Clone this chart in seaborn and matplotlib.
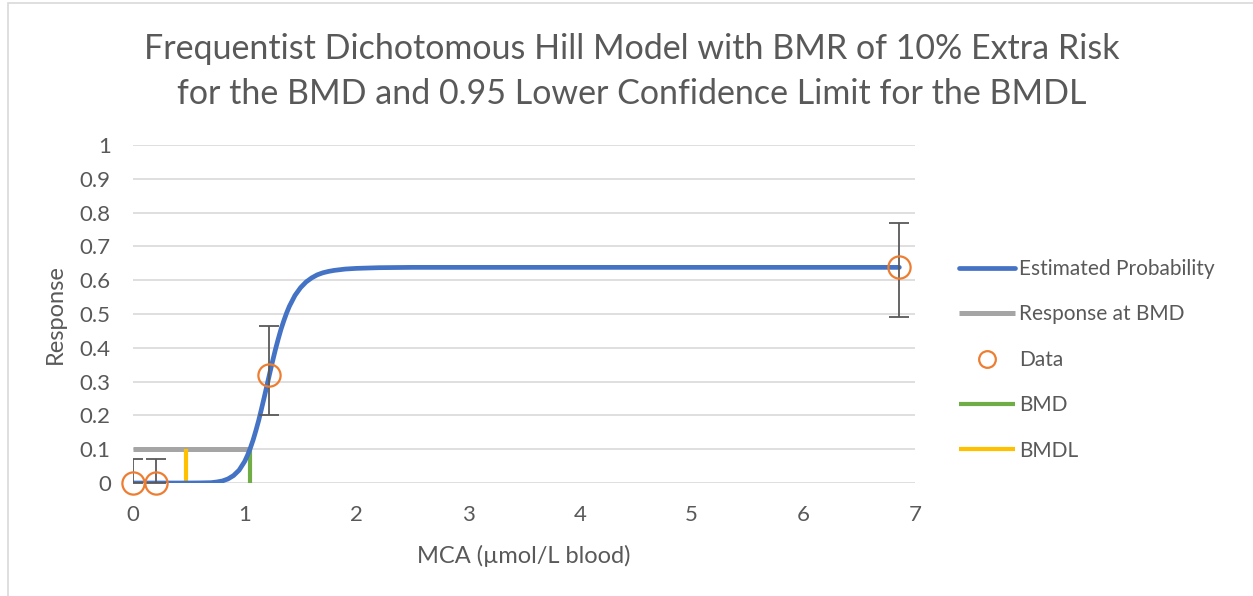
import numpy as np
import pandas as pd
import seaborn as sns
from matplotlib import pyplot as plt
from matplotlib.patches import Rectangle

sns.set_style('white')
plt.rcParams['font.family'] = ['Lato', 'DejaVu Sans']

# dose-response data
dose = [0, 0.21, 1.22, 6.86]
resp = [0, 0, 0.32, 0.64]
err_lo = [0, 0, 0.12, 0.15]
err_hi = [0.07, 0.07, 0.145, 0.13]

# fitted hill curve
curve_x = [0, 0.5, 0.6, 0.7, 0.75, 0.8, 0.85, 0.9, 0.95, 1.0, 1.025, 1.05, 1.075, 1.1, 1.125,
           1.15, 1.175, 1.2, 1.225, 1.25, 1.275, 1.3, 1.325, 1.35, 1.375, 1.4, 1.45, 1.5,
           1.55, 1.6, 1.65, 1.7, 1.75, 1.8, 1.9, 2.0, 2.2, 2.5, 3, 4, 5, 6, 6.86]
curve_y = [0, 0, 0.0003, 0.001, 0.003, 0.006, 0.012, 0.022, 0.038, 0.064, 0.082, 0.103,
           0.127, 0.155, 0.185, 0.219, 0.254, 0.29, 0.326, 0.361, 0.395, 0.426, 0.455, 0.48,
           0.503, 0.523, 0.555, 0.578, 0.595, 0.607, 0.616, 0.622, 0.626, 0.629, 0.633,
           0.635, 0.637, 0.638, 0.638, 0.638, 0.638, 0.638, 0.638]

bmd = 1.05
bmdl = 0.47
bmr = 0.1

blue = '#4472C4'
grey = '#A5A5A5'
orange = '#ED7D31'
green = '#70AD47'
yellow = '#FFC000'
txt = '#595959'

fig = plt.figure(figsize=(12.53, 5.96), dpi=100)
fig.patches.append(Rectangle((8 / 1253, -0.1), 1.2, 1 - 3 / 596 + 0.1, transform=fig.transFigure,
                             fill=False, edgecolor='#D9D9D9', lw=1.2))
ax = fig.add_axes([133 / 1253, 1 - 483 / 596, 782 / 1253, 338 / 596])

df = pd.DataFrame({'x': curve_x, 'y': curve_y})
sns.lineplot(data=df, x='x', y='y', ax=ax, color=blue, lw=3.4, label='Estimated Probability',
             zorder=3, solid_joinstyle='round', solid_capstyle='round')
ax.plot([0, bmd], [bmr, bmr], color=grey, lw=3.6, label='Response at BMD', zorder=2,
        solid_capstyle='butt')
ax.errorbar(dose, resp, yerr=[err_lo, err_hi], fmt='none', ecolor='#595959', elinewidth=1.3,
            capsize=7, capthick=1.3, zorder=4)
ax.plot(dose, resp, 'o', ms=16, mfc='none', mec=orange, mew=1.6, label='Data', clip_on=False,
        zorder=5)
ax.plot([bmd, bmd], [0, bmr], color=green, lw=3, label='BMD', zorder=2, solid_capstyle='butt')
ax.plot([bmdl, bmdl], [0, bmr], color=yellow, lw=3, label='BMDL', zorder=2,
        solid_capstyle='butt')

ax.set_xlim(0, 7)
ax.set_ylim(0, 1)
ax.set_yticks(np.arange(0, 1.01, 0.1))
ax.set_yticklabels(['0', '0.1', '0.2', '0.3', '0.4', '0.5', '0.6', '0.7', '0.8', '0.9', '1'])
ax.set_xticks(range(8))
ax.yaxis.grid(True, color='#D9D9D9', lw=1.2)
ax.xaxis.grid(False)
for s in ax.spines.values():
    s.set_visible(False)
ax.tick_params(axis='x', length=0, labelsize=16, colors=txt, pad=16)
ax.tick_params(axis='y', length=0, labelsize=16, colors=txt, pad=16)
ax.set_xlabel('MCA (µmol/L blood)', fontsize=17, color=txt, labelpad=14)
ax.set_ylabel('Response', fontsize=17, color=txt, labelpad=10)

fig.text(0.504, 0.88, 'Frequentist Dichotomous Hill Model with BMR of 10% Extra Risk\n'
         'for the BMD and 0.95 Lower Confidence Limit for the BMDL',
         ha='center', va='center', fontsize=24.5, color=txt, linespacing=1.5)

leg = ax.legend(loc='upper left', bbox_to_anchor=(959 / 1253, 1 - 259 / 596),
                bbox_transform=fig.transFigure, frameon=False, fontsize=15,
                handlelength=2.7, handletextpad=0.2, labelspacing=1.22,
                borderpad=0, borderaxespad=0, markerscale=0.75)
for t in leg.get_texts():
    t.set_color(txt)

fig.savefig('out.png', dpi=100)
